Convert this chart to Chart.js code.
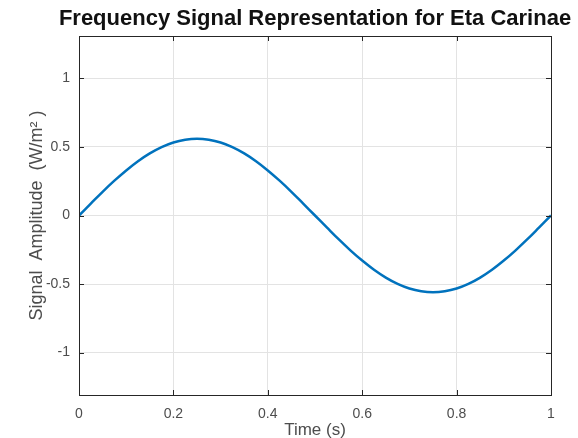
<!DOCTYPE html>
<html>
<head>
<meta charset="utf-8">
<script src="https://cdn.jsdelivr.net/npm/chart.js@4"></script>
<style>
  html, body { margin: 0; padding: 0; background: #fff; }
  #wrap { width: 578px; height: 438px; }
</style>
</head>
<body>
<div id="wrap"><canvas id="chart" width="578" height="438"></canvas></div>
<script>
// time samples (s) and amplitude
const times = [0, 0.025, 0.05, 0.075, 0.1, 0.125, 0.15, 0.175, 0.2, 0.225, 0.25,
    0.275, 0.3, 0.325, 0.35, 0.375, 0.4, 0.425, 0.45, 0.475, 0.5,
    0.525, 0.55, 0.575, 0.6, 0.625, 0.65, 0.675, 0.7, 0.725, 0.75,
    0.775, 0.8, 0.825, 0.85, 0.875, 0.9, 0.925, 0.95, 0.975, 1];
const amplitude = [0, 0.087, 0.173, 0.254, 0.329, 0.396, 0.453, 0.499, 0.533, 0.553, 0.56,
    0.553, 0.533, 0.499, 0.453, 0.396, 0.329, 0.254, 0.173, 0.087, 0,
    -0.087, -0.173, -0.254, -0.329, -0.396, -0.453, -0.499, -0.533, -0.553, -0.56,
    -0.553, -0.533, -0.499, -0.453, -0.396, -0.329, -0.254, -0.173, -0.087, 0];
const xTicks = [0, 0.2, 0.4, 0.6, 0.8, 1];
const yTicks = [-1, -0.5, 0, 0.5, 1];

const titleText = 'Frequency Signal Representation for Eta Carinae';
const axisColor = '#262626';
const tickColor = '#4d4d4d';
const fontFamily = '"Liberation Sans", Arial, sans-serif';

// MATLAB-like box, inward ticks and title
const boxPlugin = {
    id: 'boxPlugin',
    afterDraw(chart) {
        const ctx = chart.ctx;
        const a = chart.chartArea;
        const xs = chart.scales.x, ys = chart.scales.y;
        ctx.save();
        ctx.strokeStyle = axisColor;
        ctx.lineWidth = 1;
        ctx.beginPath();
        xTicks.forEach(v => {
            const px = Math.round(xs.getPixelForValue(v)) + 0.5;
            ctx.moveTo(px, a.bottom); ctx.lineTo(px, a.bottom - 5);
            ctx.moveTo(px, a.top); ctx.lineTo(px, a.top + 5);
        });
        yTicks.forEach(v => {
            const py = Math.round(ys.getPixelForValue(v)) + 0.5;
            ctx.moveTo(a.left, py); ctx.lineTo(a.left + 5, py);
            ctx.moveTo(a.right, py); ctx.lineTo(a.right - 5, py);
        });
        ctx.stroke();
        ctx.strokeRect(Math.round(a.left) + 0.5, Math.round(a.top) + 0.5,
            Math.round(a.right - a.left), Math.round(a.bottom - a.top));

        ctx.fillStyle = '#111';
        ctx.font = 'bold 22px ' + fontFamily;
        ctx.textAlign = 'center';
        ctx.textBaseline = 'middle';
        ctx.fillText(titleText, (a.left + a.right) / 2, 19);
        ctx.restore();
    }
};

new Chart(document.getElementById('chart'), {
    type: 'line',
    data: {
        labels: times,
        datasets: [{
            data: times.map((t, i) => ({ x: t, y: amplitude[i] })),
            borderColor: '#0072BD',
            borderWidth: 2.5,
            pointRadius: 0,
            tension: 0.4,
            fill: false
        }]
    },
    options: {
        responsive: false,
        animation: false,
        layout: { padding: { top: 36, right: 27, left: 0, bottom: 0 } },
        plugins: { legend: { display: false }, tooltip: { enabled: false } },
        scales: {
            x: {
                type: 'linear',
                min: 0, max: 1,
                afterBuildTicks: s => { s.ticks = xTicks.map(v => ({ value: v })); },
                afterFit: s => { s.height = 43; },
                grid: { color: '#e3e3e3', drawTicks: false },
                border: { color: axisColor },
                ticks: {
                    padding: 11,
                    color: tickColor,
                    font: { family: fontFamily, size: 14 },
                    maxRotation: 0,
                    callback: v => String(v)
                },
                title: {
                    display: true,
                    text: 'Time (s)',
                    color: tickColor,
                    font: { family: fontFamily, size: 17 },
                    padding: { top: 0, bottom: -3 }
                }
            },
            y: {
                type: 'linear',
                min: -1.31, max: 1.31,
                afterBuildTicks: s => { s.ticks = yTicks.map(v => ({ value: v })); },
                afterFit: s => { s.width = 79; },
                grid: { color: '#e3e3e3', drawTicks: false },
                border: { color: axisColor },
                ticks: {
                    padding: 9,
                    color: tickColor,
                    font: { family: fontFamily, size: 14 },
                    callback: v => String(v)
                },
                title: {
                    display: true,
                    text: 'Signal  Amplitude  (W/m² )',
                    color: tickColor,
                    font: { family: fontFamily, size: 18 },
                    padding: { top: 26, bottom: 0 }
                }
            }
        }
    },
    plugins: [boxPlugin]
});
</script>
</body>
</html>
